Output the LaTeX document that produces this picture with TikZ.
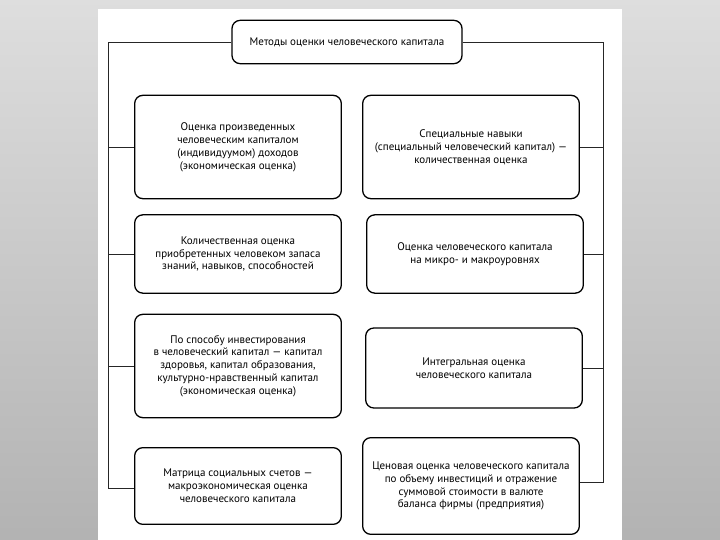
\documentclass[tikz,border=0pt]{standalone}
\usepackage{fontspec}
\setmainfont{PT Sans}
\usepackage{tikz}
\usetikzlibrary{positioning, calc}

\begin{document}
\begin{tikzpicture}[x=0.03cm, y=-0.03cm,
    box/.style={draw, line width=1.1pt, rounded corners=7pt, align=center, inner sep=2pt,
        font=\fontsize{9.4}{11}\selectfont, text=black},
    lbox/.style={box, minimum width=6.2cm, minimum height=#1},
    rbox/.style={box, minimum width=6.5cm, minimum height=#1},
    rail/.style={draw, line width=0.8pt, black!85}]
    % page and grey border
    \shade[top color=black!13, bottom color=black!30] (0,0) rectangle (720,540);
    \fill[white] (98,9) rectangle (622,540);
    \useasboundingbox (0,0) rectangle (720,540);

    \node[box, minimum width=6.9cm, minimum height=1.3cm] (title) at (347,42) {Методы оценки человеческого капитала};

    % left column
    \node[lbox=3.1cm] (l1) at (238,147) {Оценка произведенных\\человеческим капиталом\\(индивидуумом) доходов\\(экономическая оценка)};
    \node[lbox=2.35cm] (l2) at (238,254) {Количественная оценка\\приобретенных человеком запаса\\знаний, навыков, способностей};
    \node[lbox=3.1cm] (l3) at (238,366) {По способу инвестирования\\в человеческий капитал --- капитал\\здоровья, капитал образования,\\культурно-нравственный капитал\\(экономическая оценка)};
    \node[lbox=2.3cm] (l4) at (238,486) {Матрица социальных счетов ---\\макроэкономическая оценка\\человеческого капитала};

    % right column
    \node[rbox=3.1cm] (r1) at (471,147) {Специальные навыки\\(специальный человеческий капитал) ---\\количественная оценка};
    \node[rbox=2.35cm] (r2) at (475,254) {Оценка человеческого капитала\\на микро- и макроуровнях};
    \node[rbox=2.4cm] (r3) at (474,368) {Интегральная оценка\\человеческого капитала};
    \node[rbox=2.9cm] (r4) at (471,486) {Ценовая оценка человеческого капитала\\по объему инвестиций и отражение\\суммовой стоимости в валюте\\баланса фирмы (предприятия)};

    \coordinate (lt) at (108,42);
    \coordinate (lb) at (108,488);
    \coordinate (rt) at (603,42);
    \coordinate (rb) at (603,482);

    \draw[rail] (title.west) -- (lt) -- (lb) -- (lb -| l4.west);
    \draw[rail] (title.east) -- (rt) -- (rb) -- (rb -| r4.east);
    \foreach \n in {l1, l2, l3}
        \draw[rail] (\n.west) -- (\n.west -| lt);
    \foreach \n in {r1, r2, r3}
        \draw[rail] (\n.east) -- (\n.east -| rt);
\end{tikzpicture}
\end{document}
